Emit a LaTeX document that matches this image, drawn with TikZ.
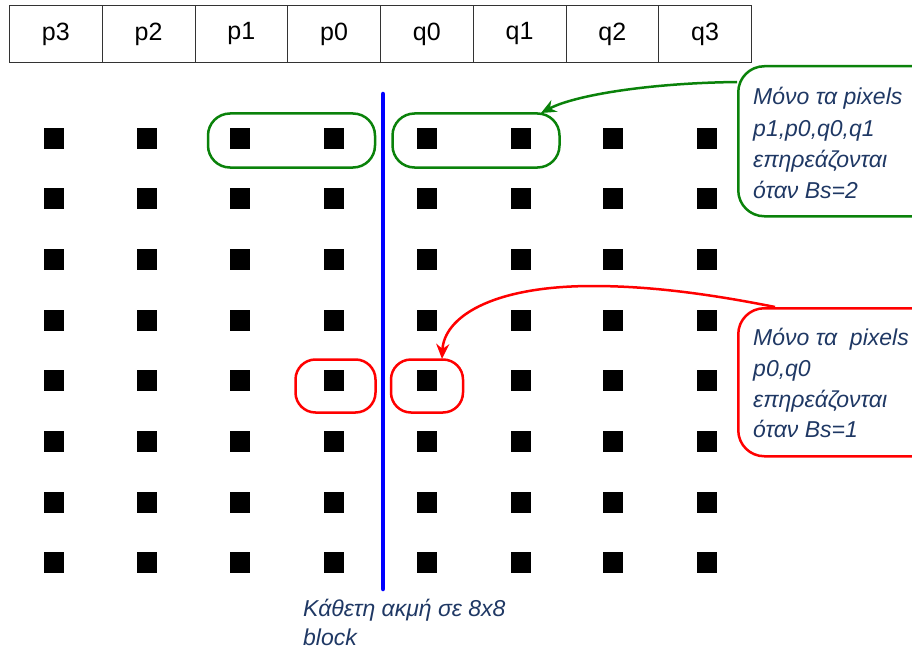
\documentclass[tikz,border=0pt]{standalone}
\usepackage{fontspec}
\setmainfont{Liberation Sans}
\usetikzlibrary{arrows.meta}
\definecolor{navy}{RGB}{31,56,100}
\definecolor{grn}{RGB}{10,130,10}
\definecolor{rd}{RGB}{255,0,0}
\definecolor{blu}{RGB}{0,0,255}
\tikzset{
  cell/.style={draw=black!80, line width=0.8pt, minimum width=92.75pt, minimum height=57pt, inner sep=0pt, anchor=north west, font=\fontsize{25}{30}\selectfont},
  px/.style={fill=black, minimum width=20pt, minimum height=21pt, inner sep=0pt},
  gbox/.style={draw=grn, line width=2.5pt, rounded corners=22pt},
  rbox/.style={draw=rd, line width=2.5pt, rounded corners=20pt},
  note/.style={text=navy, font=\fontsize{23}{27}\selectfont\itshape, anchor=base west, inner sep=0pt},
}
\begin{document}
\begin{tikzpicture}[x=1pt,y=-1pt]
\useasboundingbox (0,0) rectangle (912,650);
\clip (0,0) rectangle (912,650);
% table
\foreach \t [count=\i from 0] in {p3,p2,p1,p0,q0,q1,q2,q3}{
  \node[cell] (\t) at ({9+92.75*\i},5) {\t};
}
% pixel grid
\foreach \cx [count=\i] in {54,147,240,334,427,521,613,707}{
  \foreach \j in {1,...,8}{
    \node[px] (s-\i-\j) at (\cx,{138+60.7*(\j-1)}) {};
  }
}
% groups
\node[gbox, minimum width=167pt, minimum height=54pt, inner sep=0pt] (g1) at (291.5,140.5) {};
\node[gbox, minimum width=167pt, minimum height=54pt, inner sep=0pt] (g2) at (476,140.5) {};
\node[rbox, minimum width=80pt, minimum height=53pt, inner sep=0pt] (r1) at (335.5,386) {};
\node[rbox, minimum width=72pt, minimum height=53pt, inner sep=0pt] (r2) at (427,386) {};
% edge
\coordinate (etop) at (383,94);
\coordinate (ebot) at (383,589);
\draw[blu, line width=4.5pt, line cap=round] (etop) -- (ebot);
% callouts
\node[draw=grn, line width=2.5pt, rounded corners=26pt, minimum width=200pt, minimum height=150pt, inner sep=0pt, anchor=north west] (cg) at (737,65) {};
\node[draw=rd, line width=2.5pt, rounded corners=26pt, minimum width=200pt, minimum height=148pt, inner sep=0pt, anchor=north west] (cr) at (737,307) {};
\node[note] (cg1) at (753,105) {Μόνο τα pixels};
\node[note] (cg2) at (753,136) {p1,p0,q0,q1};
\node[note] (cg3) at (753,167) {επηρεάζονται};
\node[note] (cg4) at (753,198) {όταν Bs=2};
\node[note] (cr1) at (753,345) {Μόνο τα \ pixels};
\node[note] (cr2) at (753,376) {p0,q0};
\node[note] (cr3) at (753,407) {επηρεάζονται};
\node[note] (cr4) at (753,437) {όταν Bs=1};
% arrows
\coordinate (ga) at (737,82);
\coordinate (gb) at (541,113);
\draw[grn, line width=2.5pt, -{Stealth[length=15pt,width=13pt]}] (ga) .. controls (650,83) and (575,95) .. (gb);
\coordinate (ra) at (775,307);
\coordinate (rm) at (593,286);
\coordinate (rb) at (442,359);
\draw[rd, line width=2.5pt, -{Stealth[length=15pt,width=13pt]}] (ra) .. controls (710,294) and (650,286) .. (rm) .. controls (490,286) and (444,318) .. (rb);
% caption
\node[note] (cap1) at (303,616) {Κάθετη ακμή σε 8x8};
\node[note] (cap2) at (303,645) {block};
\end{tikzpicture}
\end{document}
